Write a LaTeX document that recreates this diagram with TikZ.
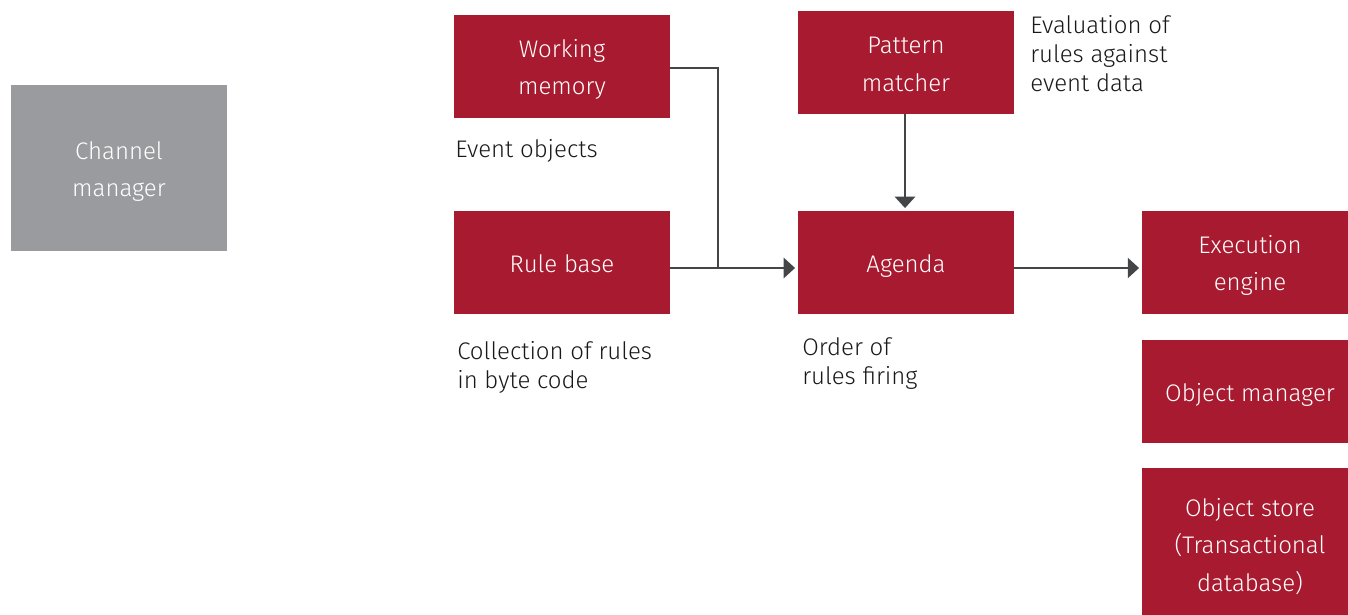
\documentclass[tikz,border=0pt]{standalone}
\usepackage{fontspec}
\setmainfont{Fira Sans}[UprightFont={* Light}]
\usetikzlibrary{arrows.meta}
\definecolor{boxred}{HTML}{A71A30}
\definecolor{boxgray}{HTML}{9A9B9F}
\definecolor{linegray}{HTML}{444547}
\tikzset{
  px/.style={x=0.75pt,y=-0.75pt},
  blocktext/.style={text=white, inner sep=0pt, align=center,
    font=\fontsize{18}{28.1}\selectfont},
  blockbox/.style={fill=boxred, draw=none, inner sep=0pt,
    minimum width=162pt, minimum height=77.25pt},
  % #1: caption text, #2: downward shift in pixels for optical centring
  caption/.style 2 args={label={[blocktext, yshift=-#2*0.75pt]center:{#1}}},
  note/.style={anchor=north west, inner sep=0pt, align=left, text=black!90,
    font=\fontsize{18}{21.75}\selectfont},
  flow/.style={draw=linegray, line width=1.9pt},
  flowarrow/.style={flow, -{Triangle[length=8.5pt,width=15pt]}, shorten >=2pt},
}
\begin{document}
\begin{tikzpicture}[px]
\useasboundingbox (0,0) rectangle (1348,614);
\clip (0,0) rectangle (1348,614);

% blocks
\node[blockbox, fill=boxgray, minimum height=124.5pt,
      caption={Channel\\manager}{3.5}] (cm) at (119,168) {};
\node[blockbox, caption={Working\\memory}{3}] (wm) at (562,66.5) {};
\node[blockbox, caption={Pattern\\matcher}{2}] (pm) at (906,62.5) {};
\node[blockbox, caption={Rule base}{1}] (rb) at (562,262.5) {};
\node[blockbox, caption={Agenda}{3.5}] (ag) at (906,262.5) {};
\node[blockbox, caption={Execution\\engine}{3}] (ee) at (1250,262.5) {};
\node[blockbox, caption={Object manager}{3.5}] (om) at (1250,391.5) {};
\node[blockbox, minimum height=115.5pt,
      caption={Object store\\(Transactional\\database)}{1.5}] (os) at (1250,545) {};

% annotations
\node[note] (n1) at (1030,15) {Evaluation of\\rules against\\event data};
\node[note] (n2) at (455,139) {Event objects};
\node[note] (n3) at (457,341) {Collection of rules\\in byte code};
\node[note] (n4) at (802,337) {Order of\\rules firing};

% connectors
\coordinate (j) at (718,268);
\draw[flow] (wm.east |- 0,68) -| (j);
\draw[flowarrow] (rb.east |- 0,268) -- (ag.west |- 0,268);
\draw[flowarrow] (pm.south -| 905,0) -- (ag.north -| 905,0);
\draw[flowarrow] (ag.east |- 0,268) -- (ee.west |- 0,268);
\end{tikzpicture}
\end{document}
